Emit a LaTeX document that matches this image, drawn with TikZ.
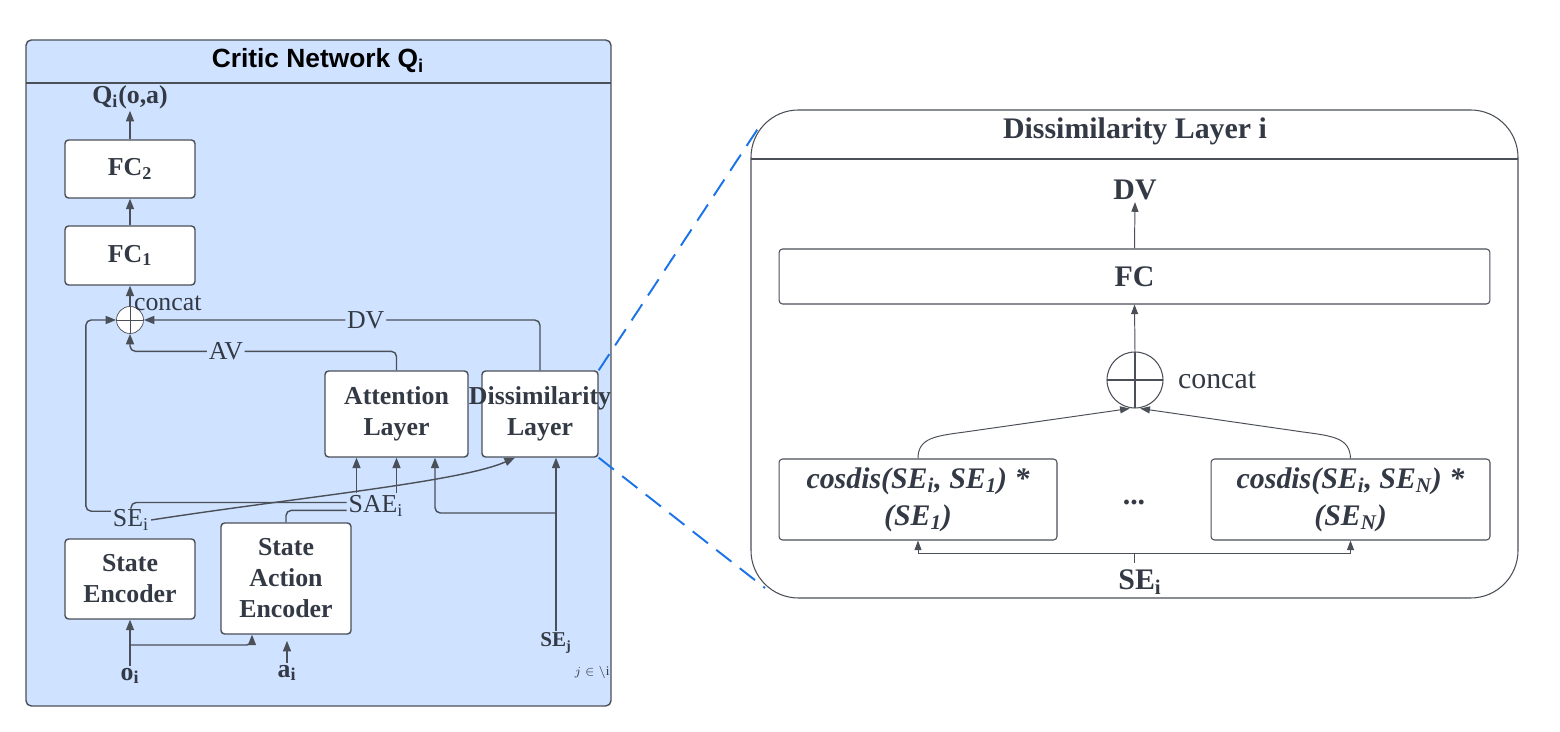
\documentclass[tikz,border=0pt]{standalone}
\usepackage{fontspec}
\setmainfont{Liberation Serif}
\newfontfamily\headsans{Liberation Sans}
\usepackage{tikz}
\usetikzlibrary{arrows.meta, calc, positioning}
\definecolor{panelblue}{HTML}{CFE2FF}
\definecolor{inkgray}{HTML}{333A45}
\definecolor{linegray}{HTML}{4A4F58}
\definecolor{zoomblue}{HTML}{1A73E8}
\newcommand{\midsize}{\fontsize{14.7}{17.6}\selectfont}
\newcommand{\bigsize}{\fontsize{17}{21}\selectfont}

\begin{document}
\begin{tikzpicture}[x=0.02cm, y=-0.02cm]
    % --- Styles ---
    \tikzstyle{panel}=[draw=linegray, line width=0.8pt]
    \tikzstyle{block}=[draw=linegray, fill=white, rounded corners=2pt, line width=0.8pt, inner sep=1pt, align=center, text=inkgray, font=\midsize\bfseries]
    \tikzstyle{tag}=[text=inkgray, font=\midsize, inner sep=1pt, align=center]
    \tikzstyle{flow}=[draw=linegray, line width=0.8pt, rounded corners=3pt, -{Triangle[length=6pt,width=4.6pt]}]
    \tikzstyle{wire}=[draw=linegray, line width=0.8pt, rounded corners=3pt]
    \tikzstyle{thin_flow}=[draw=linegray, line width=0.55pt, -{Triangle[length=5.5pt,width=4pt]}]
    \tikzstyle{merge}=[draw=linegray, fill=white, circle, inner sep=0pt, path picture={\draw[linegray] (path picture bounding box.north) -- (path picture bounding box.south) (path picture bounding box.west) -- (path picture bounding box.east);}]
    \tikzstyle{zoom_line}=[draw=zoomblue, line width=1.1pt, dash pattern=on 11pt off 6pt]

    \useasboundingbox (0,0) rectangle (1560,732);

    % --- 1. Critic network panel ---
    \draw[panel, fill=panelblue, rounded corners=3pt] (26,40) rectangle (611,706);
    \draw[panel] (26,83) -- (611,83);
    \node[text=black, font=\fontsize{15}{18}\selectfont\headsans\bfseries] (crit_title) at (318,61) {Critic Network Q\textsubscript{i}};

    \node[tag, font=\midsize\bfseries] (q_out) at (130,97) {Q\textsubscript{i}(o,a)};
    \node[block, minimum width=2.6cm, minimum height=1.16cm] (fc2) at (130,169) {FC\textsubscript{2}};
    \node[block, minimum width=2.6cm, minimum height=1.18cm] (fc1) at (130,255.5) {FC\textsubscript{1}};
    \node[merge, minimum size=0.54cm] (cat) at (130,320) {};
    \node[tag, anchor=west] (cat_lbl) at (132,303) {concat};

    \node[block, minimum width=2.86cm, minimum height=1.72cm] (att) at (396.5,414) {Attention\\Layer};
    \node[block, minimum width=2.32cm, minimum height=1.72cm] (dis) at (540,414) {\makebox[0pt]{Dissimilarity}\\Layer};
    \node[block, minimum width=2.6cm, minimum height=1.6cm] (senc) at (130,579) {State\\Encoder};
    \node[block, minimum width=2.6cm, minimum height=2.22cm] (saenc) at (286,578.5) {State\\Action\\Encoder};

    \node[tag] (se_i) at (131,520) {SE\textsubscript{i}};
    \node[tag] (sae_i) at (376,506) {SAE\textsubscript{i}};
    \node[tag, font=\midsize\bfseries] (o_i) at (130,676) {o\textsubscript{i}};
    \node[tag, font=\midsize\bfseries] (a_i) at (287,673) {a\textsubscript{i}};
    \node[tag, font=\fontsize{12}{14}\selectfont\bfseries] (se_j) at (556,643) {SE\textsubscript{j}};
    \node[tag, font=\fontsize{7.5}{9}\selectfont] (j_set) at (592,672) {$j \in \backslash\mathrm{i}$};

    % --- 2. Connectors (critic) ---
    \draw[flow] (fc2.north) -- (q_out.south);
    \draw[flow] (fc1.north) -- (fc2.south);
    \draw[flow] (cat.north) -- (fc1.south);
    \draw[flow] (dis.north) |- node[tag, fill=panelblue, pos=0.72] {DV} (cat.east);
    \draw[flow] (att.north) -- ++(0,-19) -| node[tag, fill=panelblue, pos=0.32] {AV} (cat.south);
    \draw[flow] ([yshift=5pt]se_i.west) -- ++(-25,0) |- (cat.west);
    \draw[wire] (se_i.north) |- ([yshift=2pt]sae_i.west);
    \draw[wire] (saenc.north) |- ([yshift=-2.5pt]sae_i.west);

    \coordinate (att_a) at ($(att.south)+(-40,0)$);
    \coordinate (att_c) at ($(att.south)+(38.5,0)$);
    \coordinate (dis_a) at ($(dis.south)+(-25,0)$);
    \coordinate (dis_b) at ($(dis.south)+(16,0)$);
    \coordinate (sej_split) at (556,513);
    \coordinate (o_split) at (130,645);
    \coordinate (sa_in) at ($(saenc.south)+(-34,0)$);

    \draw[flow] (att_a |- sae_i.north) -- (att_a);
    \draw[flow] (att.south |- sae_i.north) -- (att.south);
    \draw[flow] (se_i.east) .. controls (300,497) and (460,482) .. (dis_a);
    \draw[flow] (se_j.north) -- (dis_b);
    \draw[flow] (sej_split) -| (att_c);
    \draw[flow] (o_i.north) -- (senc.south);
    \draw[flow] (o_split) -| (sa_in);
    \draw[flow] (a_i.north) -- ++(0,-22);

    % --- 3. Dissimilarity layer panel ---
    \draw[panel, line width=0.6pt, fill=white, rounded corners=27pt] (751,110) rectangle (1518,598);
    \draw[panel, line width=0.6pt] (751,159) -- (1518,159);
    \node[tag, font=\bigsize\bfseries] (dl_title) at (1135,131) {Dissimilarity Layer i};

    \node[tag, font=\bigsize\bfseries] (dv_out) at (1135,190) {DV};
    \node[block, font=\bigsize\bfseries, line width=0.6pt, minimum width=14.22cm, minimum height=1.1cm] (fc) at (1134.5,276.5) {FC};
    \node[merge, line width=0.6pt, minimum size=1.12cm] (cat2) at (1135,380) {};
    \node[tag, font=\bigsize, anchor=west] (cat2_lbl) at (1176,380) {concat};

    \node[block, font=\fontsize{17}{21}\selectfont\bfseries\itshape, line width=0.6pt, minimum width=5.56cm, minimum height=1.62cm] (box1) at (918,499.5) {cosdis(SE\textsubscript{i}, SE\textsubscript{1}) *\\(SE\textsubscript{1})};
    \node[block, font=\fontsize{17}{21}\selectfont\bfseries\itshape, line width=0.6pt, minimum width=5.58cm, minimum height=1.62cm] (box2) at (1350.5,499.5) {cosdis(SE\textsubscript{i}, SE\textsubscript{N}) *\\(SE\textsubscript{N})};
    \node[tag, font=\bigsize\bfseries] (dots) at (1134,503) {...};
    \node[tag, font=\bigsize\bfseries] (se_i2) at (1140,582) {SE\textsubscript{i}};

    % --- 4. Connectors (dissimilarity) ---
    \draw[thin_flow] (fc.north) -- (dv_out.south);
    \draw[thin_flow] (cat2.north) -- (fc.south);
    \draw[thin_flow] (box1.north) .. controls (918,438) and (935,436) .. (965,432) -- ([xshift=-3pt]cat2.south);
    \draw[thin_flow] (box2.north) .. controls (1350,438) and (1333,436) .. (1303,432) -- ([xshift=3pt]cat2.south);

    \coordinate (br_mid) at (1134,553);
    \coordinate (br_end) at (1134,563);
    \draw[thin_flow] (br_mid) -| (box1.south);
    \draw[thin_flow] (br_mid) -| (box2.south);
    \draw[draw=linegray, line width=0.55pt] (br_end) -- (br_mid);

    % --- 5. Zoom lines ---
    \coordinate (zoom_top) at (763,121);
    \coordinate (zoom_bot) at (765,588);
    \draw[zoom_line] (dis.north east) -- (zoom_top);
    \draw[zoom_line] (dis.south east) -- (zoom_bot);

\end{tikzpicture}
\end{document}
